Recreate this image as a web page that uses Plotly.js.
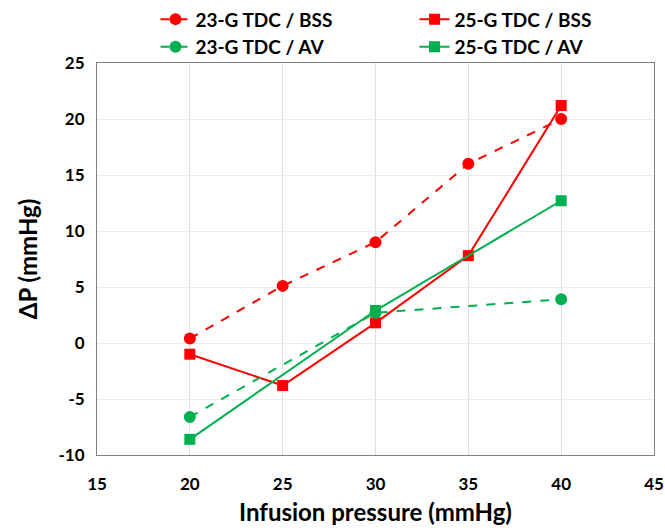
<!DOCTYPE html>
<html><head><meta charset="utf-8">
<script src="https://cdn.plot.ly/plotly-3.0.1.min.js"></script>
<style>body{margin:0;background:#fff}#c{width:665px;height:531px}</style>
</head><body><div id="c"></div>
<script>
const seriesNames = ["23-G TDC / BSS", "25-G TDC / BSS", "23-G TDC / AV", "25-G TDC / AV"];
const x23BSS = [20, 25, 30, 35, 40];
const y23BSS = [0.4, 5.1, 9.0, 16.0, 20.0];
const x25BSS = [20, 25, 30, 35, 40];
const y25BSS = [-1.0, -3.8, 1.8, 7.8, 21.2];
const x23AV = [20, 30, 40];
const y23AV = [-6.6, 2.7, 3.9];
const x25AV = [20, 30, 40];
const y25AV = [-8.6, 2.9, 12.7];
const xTicks = [15, 20, 25, 30, 35, 40, 45];
const yTicks = [-10, -5, 0, 5, 10, 15, 20, 25];

const RED = "#FF0000", GREEN = "#00B050";
function tr(x, y, name, color, dash, sym, size, leg) {
  return {x: x, y: y, name: name, type: "scatter", mode: "lines+markers", legend: leg,
    line: {color: color, width: 2, dash: dash},
    marker: {color: color, symbol: sym, size: size}};
}
const data = [
  tr(x23BSS, y23BSS, seriesNames[0], RED, "dash", "circle", 12, "legend"),
  tr(x25BSS, y25BSS, seriesNames[1], RED, "solid", "square", 11, "legend2"),
  tr(x23AV, y23AV, seriesNames[2], GREEN, "dash", "circle", 12, "legend"),
  tr(x25AV, y25AV, seriesNames[3], GREEN, "solid", "square", 11, "legend2")
];
const fontFam = "Lato, 'Open Sans', sans-serif";
const legFont = {size: 19, family: fontFam, weight: "bold", color: "#000"};
const layout = {
  width: 665, height: 531,
  margin: {l: 97, r: 11, t: 63, b: 76, autoexpand: false},
  paper_bgcolor: "#fff", plot_bgcolor: "#fff",
  font: {family: fontFam, color: "#000"},
  showlegend: true,
  legend: {orientation: "v", x: 0.105, xanchor: "left", y: 1.16, yanchor: "top",
    bgcolor: "rgba(0,0,0,0)", traceorder: "normal", font: legFont, itemwidth: 30, tracegroupgap: 0},
  legend2: {orientation: "v", x: 0.57, xanchor: "left", y: 1.16, yanchor: "top",
    bgcolor: "rgba(0,0,0,0)", traceorder: "normal", font: legFont, itemwidth: 30, tracegroupgap: 0},
  xaxis: {range: [15, 45.0001], tickvals: xTicks, ticktext: xTicks.map(String),
    showgrid: true, gridcolor: "#E0E0E0", gridwidth: 1, zeroline: false,
    showline: true, linecolor: "#808080", linewidth: 1, mirror: true,
    ticks: "outside", ticklen: 14, tickcolor: "rgba(0,0,0,0)",
    tickfont: {size: 17, family: fontFam, weight: "bold"},
    title: {text: "Infusion pressure (mmHg)", font: {size: 24, family: fontFam, weight: "bold"}, standoff: 10}},
  yaxis: {range: [-10, 25], tickvals: yTicks, ticktext: yTicks.map(String),
    showgrid: true, gridcolor: "#EBEBEB", gridwidth: 1, zeroline: false,
    showline: true, linecolor: "#808080", linewidth: 1, mirror: true,
    ticks: "outside", ticklen: 8, tickcolor: "rgba(0,0,0,0)",
    tickfont: {size: 17, family: fontFam, weight: "bold"},
    title: {text: "ΔP (mmHg)", font: {size: 24, family: fontFam, weight: "bold"}, standoff: 14}}
};
Plotly.newPlot("c", data, layout, {displayModeBar: false, staticPlot: true});
</script></body></html>
